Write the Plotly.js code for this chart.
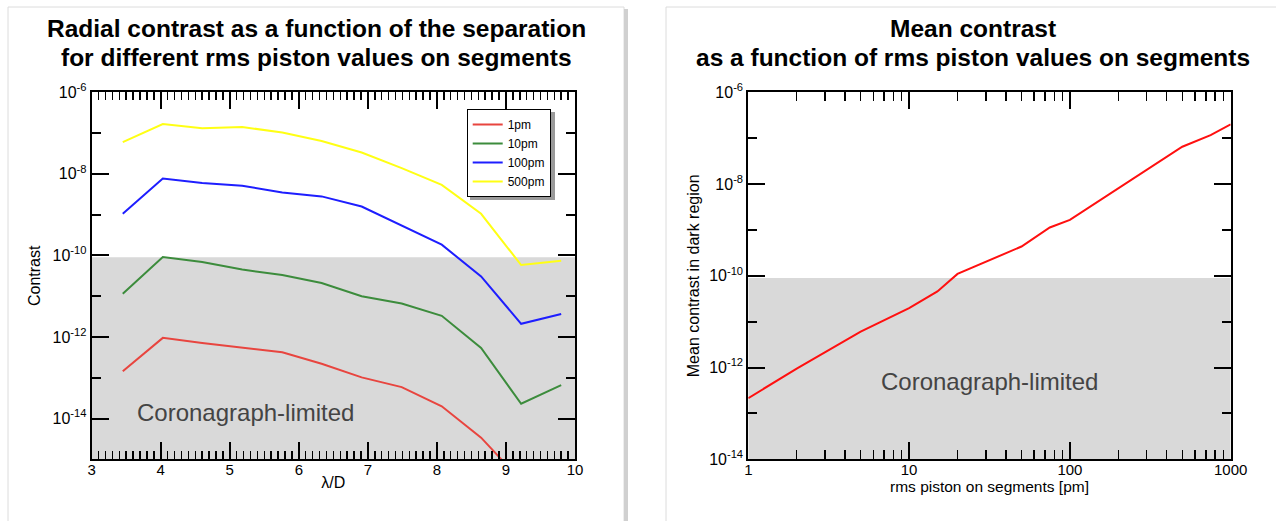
<!DOCTYPE html>
<html><head><meta charset="utf-8">
<script src="https://cdn.plot.ly/plotly-3.0.1.min.js"></script>
<style>html,body{margin:0;padding:0;background:#fff;} #chart{width:1276px;height:521px;}</style>
</head><body><div id="chart"></div>
<script>
// ---- data ----
const separation = [3.45, 4.03, 4.6, 5.18, 5.76, 6.33, 6.91, 7.49, 8.07, 8.64, 9.22, 9.8];
const contrast1pm   = [1.44e-13, 9.5e-13, 7.1e-13, 5.4e-13, 4.2e-13, 2.2e-13, 1.02e-13, 5.9e-14, 2.0e-14, 3.4e-15, 3e-16, 5e-16];
const contrast10pm  = [1.15e-11, 9.1e-11, 6.9e-11, 4.5e-11, 3.3e-11, 2.1e-11, 1.0e-11, 6.6e-12, 3.3e-12, 5.4e-13, 2.3e-14, 6.6e-14];
const contrast100pm = [1.05e-9, 7.7e-9, 6.0e-9, 5.1e-9, 3.5e-9, 2.8e-9, 1.58e-9, 5.3e-10, 1.83e-10, 3.05e-11, 2.1e-12, 3.65e-12];
const contrast500pm = [5.97e-8, 1.67e-7, 1.31e-7, 1.41e-7, 1.03e-7, 6.4e-8, 3.33e-8, 1.38e-8, 5.37e-9, 1.05e-9, 5.8e-11, 7.4e-11];
const seriesNames = ['1pm', '10pm', '100pm', '500pm'];

const pistonRms    = [1, 2, 5, 10, 15, 20, 50, 75, 100, 200, 500, 750, 1000];
const meanContrast = [2.15e-13, 9.5e-13, 6.1e-12, 1.98e-11, 4.57e-11, 1.1e-10, 4.35e-10, 1.13e-9, 1.66e-9, 8.05e-9, 6.5e-8, 1.17e-7, 2.0e-7];

const coronagraphLimit = 9e-11;
const yTickVals = [1e-6, 1e-8, 1e-10, 1e-12, 1e-14];
const yTickText = ['10<sup>-6</sup>', '10<sup>-8</sup>', '10<sup>-10</sup>', '10<sup>-12</sup>', '10<sup>-14</sup>'];
const yMinorVals = [1e-7, 1e-9, 1e-11, 1e-13];
const xLogTickVals = [1, 10, 100, 1000];
const xLogTickText = ['1', '10', '100', '1000'];

// ---- helpers ----
const W = 1276, H = 521;
const px = x => x / W;
const py = y => 1 - y / H;
const FONT = 'Liberation Sans, Arial, Helvetica, sans-serif';

const colors = ['#e8453f', '#3c8c3c', '#1e1eff', '#ffff14'];
const seriesY = [contrast1pm, contrast10pm, contrast100pm, contrast500pm];

const traces = [];
// coronagraph-limited zones (filled regions under the limit)
traces.push({
  x: [3, 10, 10, 3], y: [1e-16, 1e-16, coronagraphLimit, coronagraphLimit],
  type: 'scatter', mode: 'none', fill: 'toself', fillcolor: '#d9d9d9',
  xaxis: 'x', yaxis: 'y', showlegend: false, hoverinfo: 'skip'
});
traces.push({
  x: [1, 1000, 1000, 1], y: [1e-15, 1e-15, coronagraphLimit, coronagraphLimit],
  type: 'scatter', mode: 'none', fill: 'toself', fillcolor: '#d9d9d9',
  xaxis: 'x2', yaxis: 'y2', showlegend: false, hoverinfo: 'skip'
});
seriesY.forEach((ys, i) => traces.push({
  x: separation, y: ys, type: 'scatter', mode: 'lines', name: seriesNames[i],
  line: {color: colors[i], width: 2}, xaxis: 'x', yaxis: 'y'
}));
traces.push({
  x: pistonRms, y: meanContrast, type: 'scatter', mode: 'lines', name: 'mean',
  line: {color: '#ff1010', width: 2}, xaxis: 'x2', yaxis: 'y2', showlegend: false
});

const logMinor = [];
for (let d = 1; d < 1000; d *= 10) for (let k = 2; k <= 9; k++) logMinor.push(k * d);

const axisCommon = {
  showline: true, linewidth: 2, linecolor: '#000', mirror: 'ticks',
  ticks: 'inside', ticklen: 17, tickwidth: 2, tickcolor: '#000',
  showgrid: false, zeroline: false, fixedrange: true,
  tickfont: {family: FONT, size: 15, color: '#000'}
};

const layout = {
  width: W, height: H,
  margin: {l: 0, r: 0, t: 0, b: 0},
  paper_bgcolor: '#fff', plot_bgcolor: '#fff',
  font: {family: FONT, color: '#000'},
  xaxis: Object.assign({}, axisCommon, {
    domain: [px(91.7), px(575)], anchor: 'y', range: [3, 10], dtick: 1, tick0: 3,
    ticklabelstandoff: -4,
    minor: {dtick: 0.1, tick0: 3, ticks: 'inside', ticklen: 8, tickwidth: 1.5, tickcolor: '#000'},
    title: {text: 'λ/D', font: {family: FONT, size: 16}, standoff: 0}
  }),
  yaxis: Object.assign({}, axisCommon, {
    domain: [py(459.3), py(92.3)], anchor: 'x', type: 'log', range: [-15, -6],
    tickmode: 'array', tickvals: yTickVals, ticktext: yTickText,
    tickfont: {family: FONT, size: 16, color: '#000'},
    minor: {tickmode: 'array', tickvals: yMinorVals, ticks: 'inside', ticklen: 9, tickwidth: 2, tickcolor: '#000'},
    title: {text: 'Contrast', font: {family: FONT, size: 16}, standoff: 8}
  }),
  xaxis2: Object.assign({}, axisCommon, {
    domain: [px(748.3), px(1230.7)], anchor: 'y2', type: 'log', range: [0, 3],
    tickmode: 'array', tickvals: xLogTickVals, ticktext: xLogTickText,
    ticklabelstandoff: -4,
    minor: {tickmode: 'array', tickvals: logMinor, ticks: 'inside', ticklen: 9, tickwidth: 1.5, tickcolor: '#000'},
    title: {text: 'rms piston on segments [pm]', font: {family: FONT, size: 15.5}, standoff: 0}
  }),
  yaxis2: Object.assign({}, axisCommon, {
    domain: [py(459.3), py(92.3)], anchor: 'x2', type: 'log', range: [-14, -6],
    tickmode: 'array', tickvals: yTickVals, ticktext: yTickText,
    tickfont: {family: FONT, size: 16, color: '#000'},
    minor: {tickmode: 'array', tickvals: yMinorVals, ticks: 'inside', ticklen: 9, tickwidth: 2, tickcolor: '#000'},
    title: {text: 'Mean contrast in dark region', font: {family: FONT, size: 16}, standoff: 6}
  }),
  showlegend: true,
  legend: {
    x: px(466.7), y: py(109), xanchor: 'left', yanchor: 'top',
    bgcolor: '#fff', bordercolor: '#000', borderwidth: 1,
    font: {family: FONT, size: 12, color: '#000'}, tracegroupgap: 0
  },
  shapes: [
    // panel frames
    {type: 'rect', xref: 'paper', yref: 'paper', x0: px(8), x1: px(624), y0: py(540), y1: py(7), line: {color: '#dcdcdc', width: 1}, layer: 'below'},
    {type: 'rect', xref: 'paper', yref: 'paper', x0: px(624), x1: px(628), y0: py(540), y1: py(9), fillcolor: '#d0d0d0', line: {width: 0}, layer: 'below'},
    {type: 'rect', xref: 'paper', yref: 'paper', x0: px(666), x1: px(1290), y0: py(540), y1: py(7), line: {color: '#dcdcdc', width: 1}, layer: 'below'},
    // legend shadow
    {type: 'rect', xref: 'paper', yref: 'paper', x0: px(470), x1: px(555), y0: py(200), y1: py(112), fillcolor: '#9a9a9a', line: {width: 0}, layer: 'above'}
  ],
  annotations: [
    {xref: 'paper', yref: 'paper', x: px(316), y: py(28), text: '<b>Radial contrast as a function of the separation</b>', showarrow: false, font: {family: FONT, size: 24.5, color: '#000'}, xanchor: 'center', yanchor: 'middle'},
    {xref: 'paper', yref: 'paper', x: px(316), y: py(58), text: '<b>for different rms piston values on segments</b>', showarrow: false, font: {family: FONT, size: 24.5, color: '#000'}, xanchor: 'center', yanchor: 'middle'},
    {xref: 'paper', yref: 'paper', x: px(973), y: py(28), text: '<b>Mean contrast</b>', showarrow: false, font: {family: FONT, size: 24.5, color: '#000'}, xanchor: 'center', yanchor: 'middle'},
    {xref: 'paper', yref: 'paper', x: px(973), y: py(58), text: '<b>as a function of rms piston values on segments</b>', showarrow: false, font: {family: FONT, size: 24.5, color: '#000'}, xanchor: 'center', yanchor: 'middle'},
    {xref: 'paper', yref: 'paper', x: px(135), y: py(412), text: 'Coronagraph-limited', showarrow: false, font: {family: FONT, size: 24, color: '#444'}, xanchor: 'left', yanchor: 'middle'},
    {xref: 'paper', yref: 'paper', x: px(879), y: py(381), text: 'Coronagraph-limited', showarrow: false, font: {family: FONT, size: 24, color: '#444'}, xanchor: 'left', yanchor: 'middle'}
  ]
};

Plotly.newPlot('chart', traces, layout, {staticPlot: true, displayModeBar: false});
</script>
</body></html>
